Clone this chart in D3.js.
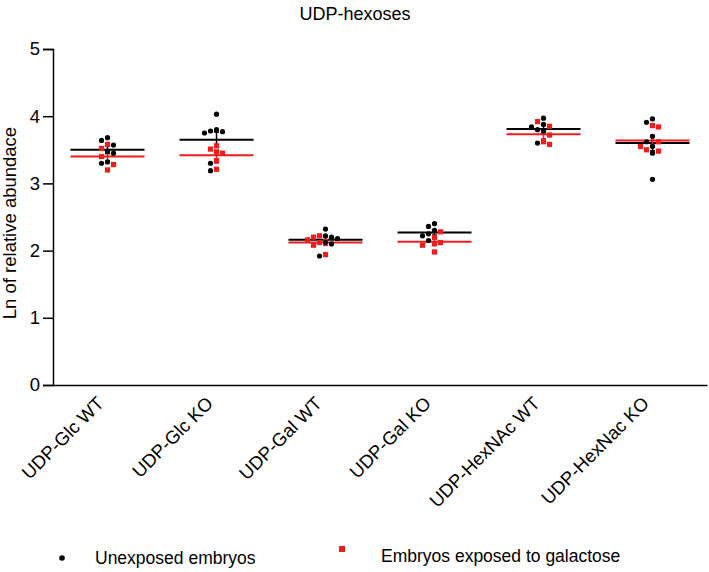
<!DOCTYPE html>
<html>
<head>
<meta charset="utf-8">
<script src="https://cdn.jsdelivr.net/npm/d3@7"></script>
<style>
  html, body { margin: 0; padding: 0; background: #fff; }
  svg { display: block; font-family: "Liberation Sans", Arial, sans-serif; }
</style>
</head>
<body>
<svg id="chart" width="709" height="572"></svg>
<script>
// ---------------- data ----------------
const categories = ["UDP-Glc WT", "UDP-Glc KO", "UDP-Gal WT", "UDP-Gal KO", "UDP-HexNAc WT", "UDP-HexNac KO"];
const unexposed = [
  [3.68, 3.64, 3.57, 3.48, 3.45, 3.32, 3.30],
  [4.03, 3.80, 3.78, 3.77, 3.75, 3.30, 3.19],
  [2.32, 2.22, 2.20, 2.18, 2.12, 2.10, 1.92],
  [2.40, 2.36, 2.30, 2.25, 2.22, 2.15],
  [3.97, 3.88, 3.84, 3.80, 3.78, 3.60],
  [3.96, 3.91, 3.70, 3.62, 3.55, 3.45, 3.06]
];
const exposed = [
  [3.58, 3.52, 3.40, 3.28, 3.20],
  [3.56, 3.51, 3.47, 3.45, 3.33, 3.21],
  [2.22, 2.20, 2.16, 2.12, 2.08, 1.94],
  [2.28, 2.20, 2.12, 2.10, 2.08, 1.98],
  [3.92, 3.85, 3.72, 3.62, 3.58],
  [3.86, 3.84, 3.62, 3.55, 3.50, 3.48]
];
const meanUnexposed = [3.50, 3.65, 2.16, 2.27, 3.81, 3.60];
const meanExposed   = [3.40, 3.42, 2.12, 2.13, 3.73, 3.64];
const yTicks = [0, 1, 2, 3, 4, 5];
const title = "UDP-hexoses";
const yLabel = "Ln of relative abundace";
const legendLabels = ["Unexposed embryos", "Embryos exposed to galactose"];

// ---------------- layout ----------------
const svg = d3.select("#chart");
const mLeft = 53, mRight = 707, mTop = 49, mBottom = 385;
const BLACK = "#000", RED = "#ee1c1c";
const FONT = "Liberation Sans, Arial, sans-serif";

const x = d3.scaleBand().domain(categories).range([mLeft, mRight]).padding(0);
const y = d3.scaleLinear().domain([0, 5]).range([mBottom, mTop]);

// title
svg.append("text").attr("x", 355).attr("y", 20).attr("text-anchor", "middle")
  .attr("font-size", 18).text(title);

// y axis
const yAxis = svg.append("g").attr("transform", `translate(${mLeft},0)`)
  .call(d3.axisLeft(y).tickValues(yTicks).tickFormat(d3.format("d")).tickSize(10).tickPadding(3));
yAxis.select(".domain").attr("stroke-width", 1.5);
yAxis.selectAll(".tick line").attr("stroke-width", 1.5);
yAxis.selectAll(".tick text").attr("font-size", 18.5).attr("font-family", FONT).attr("fill", "#000");

// x axis
const xAxis = svg.append("g").attr("transform", `translate(0,${mBottom})`)
  .call(d3.axisBottom(x).tickSize(0).tickSizeOuter(0).tickPadding(0));
xAxis.select(".domain").attr("stroke-width", 1.5);
xAxis.selectAll(".tick text")
  .attr("font-size", 18.5).attr("font-family", FONT).attr("fill", "#000")
  .attr("text-anchor", "end")
  .attr("transform", "translate(-7,15) rotate(-45)")
  .attr("dy", "0.35em").attr("y", 0);

// y label
svg.append("text").attr("transform", `translate(16,${(mTop + mBottom) / 2 + 6}) rotate(-90)`)
  .attr("text-anchor", "middle").attr("font-size", 18.5).text(yLabel);

// ---------------- points (deterministic beeswarm) ----------------
const step = 6;
categories.forEach((cat, gi) => {
  const cx = x(cat) + x.bandwidth() / 2;
  const pts = [];
  unexposed[gi].forEach(v => pts.push({ v, kind: 0 }));
  exposed[gi].forEach(v => pts.push({ v, kind: 1 }));
  pts.sort((a, b) => b.v - a.v);
  const placed = [];
  pts.forEach(p => {
    const py = y(p.v);
    let off = 0;
    const cands = [0, -step, step, -2 * step, 2 * step, -3 * step, 3 * step, -4 * step, 4 * step];
    for (const c of cands) {
      const ok = placed.every(q => Math.hypot(q.px - (cx + c), q.py - py) >= 5.5);
      if (ok) { off = c; break; }
    }
    p.px = cx + off; p.py = py;
    placed.push(p);
  });

  // mean lines
  const hw = 37;
  svg.append("line").attr("x1", cx - hw).attr("x2", cx + hw)
    .attr("y1", y(meanUnexposed[gi])).attr("y2", y(meanUnexposed[gi]))
    .attr("stroke", BLACK).attr("stroke-width", 2);
  svg.append("line").attr("x1", cx - hw).attr("x2", cx + hw)
    .attr("y1", y(meanExposed[gi])).attr("y2", y(meanExposed[gi]))
    .attr("stroke", RED).attr("stroke-width", 2);

  // SEM error bars
  [[unexposed[gi], meanUnexposed[gi], BLACK], [exposed[gi], meanExposed[gi], RED]].forEach(([vals, m, col]) => {
    const sem = d3.deviation(vals) / Math.sqrt(vals.length);
    svg.append("line").attr("x1", cx).attr("x2", cx)
      .attr("y1", y(m - sem)).attr("y2", y(m + sem))
      .attr("stroke", col).attr("stroke-width", 1.5);
    [m - sem, m + sem].forEach(e => svg.append("line")
      .attr("x1", cx - 2.5).attr("x2", cx + 2.5).attr("y1", y(e)).attr("y2", y(e))
      .attr("stroke", col).attr("stroke-width", 1.5));
  });

  // points
  placed.forEach(p => {
    if (p.kind === 0) {
      svg.append("circle").attr("cx", p.px).attr("cy", p.py).attr("r", 2.6).attr("fill", BLACK);
    } else {
      svg.append("rect").attr("x", p.px - 2.6).attr("y", p.py - 2.6)
        .attr("width", 5.2).attr("height", 5.2).attr("fill", RED);
    }
  });
});

// ---------------- legend ----------------
svg.append("circle").attr("cx", 62).attr("cy", 558).attr("r", 2.8).attr("fill", BLACK);
svg.append("text").attr("x", 95).attr("y", 564).attr("font-size", 17.5).text(legendLabels[0]);
svg.append("rect").attr("x", 339).attr("y", 546).attr("width", 6).attr("height", 6).attr("fill", RED);
svg.append("text").attr("x", 381).attr("y", 562).attr("font-size", 17.5).text(legendLabels[1]);
</script>
</body>
</html>
